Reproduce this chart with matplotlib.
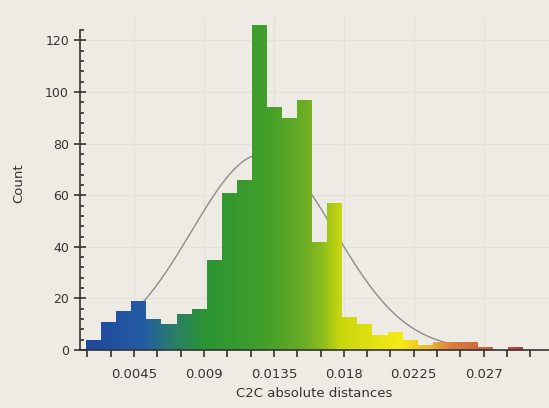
import numpy as np
import matplotlib
matplotlib.use("Agg")
import matplotlib.pyplot as plt
from matplotlib.colors import LinearSegmentedColormap
from matplotlib.path import Path
from matplotlib.ticker import MultipleLocator, FixedLocator

# histogram data
bin_start = 0.00141
bin_width = 0.00097
counts = [4, 11, 15, 19, 12, 10, 14, 16, 35, 61, 66, 126, 94, 90, 97,
          42, 57, 13, 10, 6, 7, 4, 2, 3, 3, 3, 1, 0, 1]

# fitted gaussian (drawn behind the bars)
g_mean = 0.0128
g_sigma = 0.0046
g_peak = 76
g_from = 0.0035
g_to = 0.0255

xtick_vals = [0.0045, 0.009, 0.0135, 0.018, 0.0225, 0.027]
xtick_labels = ["0.0045", "0.009", "0.0135", "0.018", "0.0225", "0.027"]

bg = "#eeebe5"
cmap = LinearSegmentedColormap.from_list("c2c", [
    (0.00, (0.12, 0.28, 0.62)),
    (0.13, (0.14, 0.36, 0.64)),
    (0.20, (0.16, 0.50, 0.40)),
    (0.27, (0.17, 0.58, 0.20)),
    (0.40, (0.25, 0.62, 0.17)),
    (0.49, (0.40, 0.67, 0.15)),
    (0.54, (0.55, 0.74, 0.12)),
    (0.58, (0.78, 0.84, 0.05)),
    (0.68, (0.92, 0.90, 0.08)),
    (0.72, (0.96, 0.92, 0.08)),
    (0.79, (0.92, 0.70, 0.20)),
    (0.84, (0.85, 0.48, 0.24)),
    (0.95, (0.80, 0.34, 0.24)),
    (1.00, (0.75, 0.22, 0.22)),
])

fig = plt.figure(figsize=(5.49, 4.08), dpi=100, facecolor=bg)
ax = fig.add_axes([0.146, 0.142, 0.854, 0.816], facecolor=bg)

xmin, xmax = 0.00103, 0.0312
ax.set_xlim(xmin, xmax)
ax.set_ylim(0, 129)

edges = bin_start + bin_width * np.arange(len(counts))
bars = ax.bar(edges, counts, width=bin_width, align="edge",
              color="none", edgecolor="none", linewidth=0)

# colour gradient along x, clipped to the bars
clip = Path.make_compound_path(
    *[b.get_path().transformed(b.get_patch_transform()) for b in bars])
grad = np.linspace(0, 1, 400).reshape(1, -1)
hist_end = edges[-1] + bin_width
im = ax.imshow(grad, cmap=cmap, aspect="auto",
               extent=(bin_start, hist_end, 0, 130), zorder=2)
im.set_clip_path(clip, ax.transData)

xs = np.linspace(g_from, g_to, 200)
ys = g_peak * np.exp(-0.5 * ((xs - g_mean) / g_sigma) ** 2)
ax.plot(xs, ys, color="#8c8c8c", lw=1.0, zorder=1.5)

ax.grid(True, color="#e4e0da", lw=0.8, zorder=0)
ax.set_axisbelow(True)

for s in ["top", "right"]:
    ax.spines[s].set_visible(False)
ax.spines["left"].set_bounds(0, 124)
ax.spines["left"].set_color("#333333")
ax.spines["bottom"].set_color("#333333")
ax.spines["left"].set_linewidth(1.2)
ax.spines["bottom"].set_linewidth(1.2)

ax.set_xticks(xtick_vals)
ax.set_xticklabels(xtick_labels)
ax.xaxis.set_minor_locator(MultipleLocator(0.0015))
ax.yaxis.set_major_locator(FixedLocator([0, 20, 40, 60, 80, 100, 120]))
ax.yaxis.set_minor_locator(FixedLocator(list(range(0, 125, 4))))
ax.tick_params(axis="x", which="both", direction="out", length=5,
               width=1.2, color="#333333", labelsize=9.5,
               labelcolor="#333333", pad=8)
ax.tick_params(axis="y", which="major", direction="inout", length=9,
               width=1.2, color="#333333", labelsize=9, labelcolor="#333333")
ax.tick_params(axis="y", which="minor", direction="in", length=3,
               width=1.2, color="#333333")

ax.set_xlabel("C2C absolute distances", fontsize=9.5, color="#333333",
              labelpad=4)
ax.set_ylabel("Count", fontsize=9.5, color="#333333", labelpad=14)

fig.savefig("out.png", dpi=100, facecolor=bg)
